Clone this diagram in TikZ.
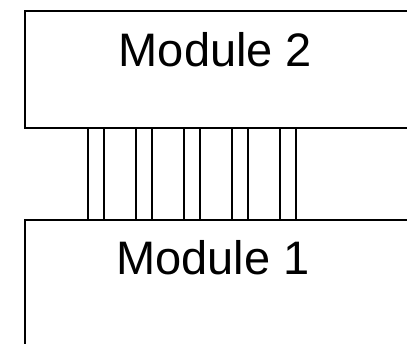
\documentclass[tikz,border=0pt]{standalone}
\usepackage{fontspec}
\setmainfont{Liberation Sans}
\begin{document}
\begin{tikzpicture}[x=1pt,y=1pt,
  modbox/.style={draw=black,line width=2pt,rectangle,inner sep=0pt,anchor=north west},
  modtext/.style={font=\fontsize{47}{50}\selectfont,anchor=base,inner sep=0pt},
  wire/.style={draw=black,line width=1.5pt}]
\useasboundingbox (0,0) rectangle (407,-344);
\clip (0,0) rectangle (407,-344);
\fill[white] (0,0) rectangle (407,-344);
\node[modbox,minimum width=420pt,minimum height=117pt] (m2) at (23.5,-10.5) {};
\node[modbox,minimum width=420pt,minimum height=160pt] (m1) at (23.5,-219) {};
\node[modtext] (t2) at (215.5,-67) {Module 2};
\node[modtext] (t1) at (213,-275) {Module 1};
\foreach \x in {88,104,136,152,184,200,232,248,280,296}{
  \coordinate (w\x) at (\x,0);
  \draw[wire] (m2.south -| w\x) -- (m1.north -| w\x);
}
\end{tikzpicture}
\end{document}
